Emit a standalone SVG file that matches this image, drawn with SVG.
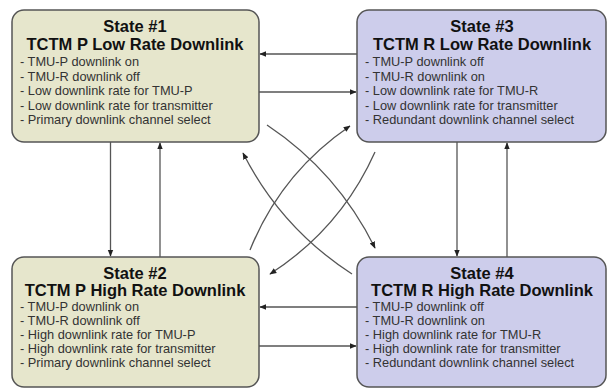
<svg xmlns="http://www.w3.org/2000/svg" width="611" height="389" viewBox="0 0 611 389">
<style>
.box{stroke:#555;stroke-width:1.5}
.p{fill:#e6e6cc}
.r{fill:#cdcdeb}
.t{font-family:"Liberation Sans",Arial,sans-serif;font-weight:bold;font-size:16.5px;fill:#111;text-anchor:middle}
.b{font-family:"Liberation Sans",Arial,sans-serif;font-size:12.8px;fill:#333}
.c{fill:none;stroke:#555;stroke-width:1.3;marker-end:url(#ah)}
</style>
<defs>
<marker id="ah" viewBox="0 0 10 10" refX="9" refY="5" markerWidth="7" markerHeight="7" markerUnits="userSpaceOnUse" orient="auto">
<path d="M0,1 L10,5 L0,9 z" fill="#222"/>
</marker>
</defs>
<rect width="611" height="389" fill="#fff"/>
<g id="connectors">
<line class="c" x1="357" y1="54" x2="260" y2="54"/>
<line class="c" x1="259" y1="92" x2="356" y2="92"/>
<line class="c" x1="357" y1="307" x2="260" y2="307"/>
<line class="c" x1="259" y1="346" x2="356" y2="346"/>
<line class="c" x1="110.5" y1="142" x2="110.5" y2="256"/>
<line class="c" x1="160" y1="257" x2="160" y2="143"/>
<line class="c" x1="457" y1="142" x2="457" y2="256"/>
<line class="c" x1="507" y1="257" x2="507" y2="143"/>
<path class="c" d="M267,125 Q337.5,172 375,248"/>
<path class="c" d="M250,250 Q281,173 350,126"/>
<path class="c" d="M352,274 Q281,228 243,153"/>
<path class="c" d="M375,152 Q340.7,228.6 270,274"/>
</g>
<g id="state1">
<rect class="box p" x="12" y="10" width="247" height="132" rx="12"/>
<text class="t" x="135" y="32">State #1</text>
<text class="t" x="135" y="50">TCTM P Low Rate Downlink</text>
<text class="b" x="20" y="66">- TMU-P downlink on</text>
<text class="b" x="20" y="80.5">- TMU-R downlink off</text>
<text class="b" x="20" y="95">- Low downlink rate for TMU-P</text>
<text class="b" x="20" y="109.5">- Low downlink rate for transmitter</text>
<text class="b" x="20" y="124">- Primary downlink channel select</text>
</g>
<g id="state3">
<rect class="box r" x="357" y="10" width="249" height="132" rx="12"/>
<text class="t" x="482" y="32">State #3</text>
<text class="t" x="482" y="50">TCTM R Low Rate Downlink</text>
<text class="b" x="365" y="66">- TMU-P downlink off</text>
<text class="b" x="365" y="80.5">- TMU-R downlink on</text>
<text class="b" x="365" y="95">- Low downlink rate for TMU-R</text>
<text class="b" x="365" y="109.5">- Low downlink rate for transmitter</text>
<text class="b" x="365" y="124">- Redundant downlink channel select</text>
</g>
<g id="state2">
<rect class="box p" x="12" y="257" width="247" height="130" rx="12"/>
<text class="t" x="135" y="279">State #2</text>
<text class="t" x="135" y="296">TCTM P High Rate Downlink</text>
<text class="b" x="20" y="311">- TMU-P downlink on</text>
<text class="b" x="20" y="325">- TMU-R downlink off</text>
<text class="b" x="20" y="339">- High downlink rate for TMU-P</text>
<text class="b" x="20" y="353">- High downlink rate for transmitter</text>
<text class="b" x="20" y="367">- Primary downlink channel select</text>
</g>
<g id="state4">
<rect class="box r" x="357" y="257" width="249" height="130" rx="12"/>
<text class="t" x="482" y="279">State #4</text>
<text class="t" x="482" y="296">TCTM R High Rate Downlink</text>
<text class="b" x="365" y="311">- TMU-P downlink off</text>
<text class="b" x="365" y="325">- TMU-R downlink on</text>
<text class="b" x="365" y="339">- High downlink rate for TMU-R</text>
<text class="b" x="365" y="353">- High downlink rate for transmitter</text>
<text class="b" x="365" y="367">- Redundant downlink channel select</text>
</g>
</svg>
